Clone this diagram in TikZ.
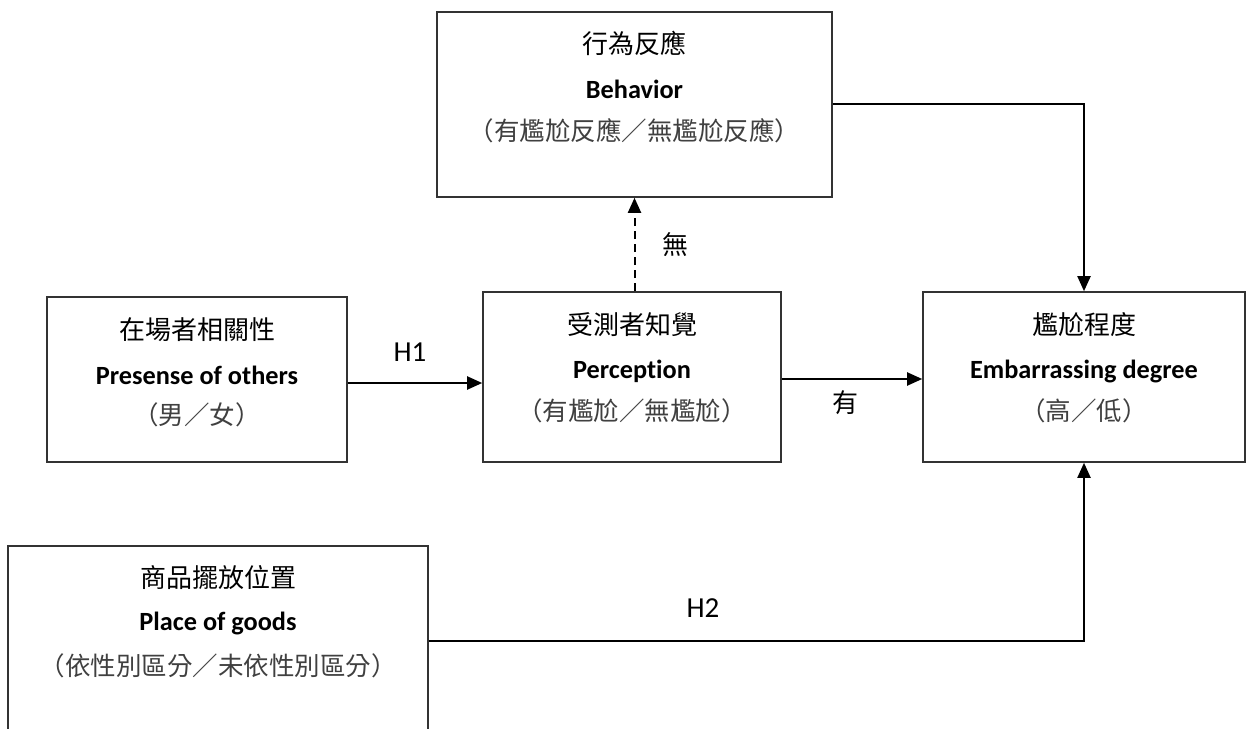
\documentclass[tikz,border=0pt]{standalone}
\usepackage{fontspec}
\setmainfont{Carlito}[Ligatures=NoCommon]
\newfontfamily\cjk{Noto Sans CJK TC}
\usetikzlibrary{arrows.meta}
\begin{document}
\begin{tikzpicture}[x=1pt,y=-1pt,
  box/.style={draw=black!80,line width=1.6pt,rectangle,inner sep=0pt},
  ttl/.style={anchor=base,inner sep=0pt,font=\cjk\fontsize{26}{30}\selectfont},
  eng/.style={anchor=base,inner sep=0pt,font=\fontsize{26.3}{30}\selectfont\bfseries},
  par/.style={anchor=base,inner sep=0pt,text=black!75,font=\cjk\fontsize{25.5}{30}\selectfont},
  lbl/.style={inner sep=0pt,font=\fontsize{29}{32}\selectfont},
  clbl/.style={inner sep=0pt,font=\cjk\fontsize{26}{30}\selectfont},
  arr/.style={line width=2pt,-{Triangle[length=15pt,width=13pt]}},
  dline/.style={line width=2pt,dash pattern=on 8pt off 5pt,-{Triangle[length=15pt,width=13pt]}}
]
\clip (0,0) rectangle (1247,728);
\fill[white] (0,0) rectangle (1247,728);

% boxes
\node[box,minimum width=395pt,minimum height=185pt] (behav) at (634.5,104.5) {};
\node[box,minimum width=300pt,minimum height=165pt] (pres) at (197,379.5) {};
\node[box,minimum width=298pt,minimum height=170pt] (percep) at (632,377) {};
\node[box,minimum width=322pt,minimum height=170pt] (emb) at (1084,377) {};
\node[box,minimum width=420pt,minimum height=234pt] (place) at (218,663) {};

% texts: behavior
\node[ttl] (behavT) at (634.5,53) {行為反應};
\node[eng] (behavE) at (634.5,98) {Behavior};
\node[par] (behavP) at (634.5,140) {（有尷尬反應／無尷尬反應）};
% presence
\node[ttl] (presT) at (197,339) {在場者相關性};
\node[eng] (presE) at (197,384) {Presense of others};
\node[par] (presP) at (197,424) {（男／女）};
% perception
\node[ttl] (percT) at (632,334) {受測者知覺};
\node[eng] (percE) at (632,378) {Perception};
\node[par] (percP) at (632,420) {（有尷尬／無尷尬）};
% embarrassing
\node[ttl] (embT) at (1084,334) {尷尬程度};
\node[eng] (embE) at (1084,378) {Embarrassing degree};
\node[par] (embP) at (1084,420) {（高／低）};
% place
\node[ttl] (plT) at (218,587) {商品擺放位置};
\node[eng] (plE) at (218,630) {Place of goods};
\node[par] (plP) at (218,675) {（依性別區分／未依性別區分）};

% connectors
\draw[arr] (pres.east |- 0,383) -- (percep.west |- 0,383);
\draw[arr] (percep.east |- 0,379) -- (emb.west |- 0,379);
\draw[dline] (behav.south |- percep.north) -- (behav.south);
\draw[arr] (behav.east |- 0,104) -| (emb.north);
\draw[arr] (place.east |- 0,641) -| (emb.south);

% labels
\node[lbl] (h1) at (410,352) {H1};
\node[lbl] (h2) at (703,608) {H2};
\node[clbl] (you) at (845,403) {有};
\node[clbl] (wu) at (675,245) {無};
\end{tikzpicture}
\end{document}
